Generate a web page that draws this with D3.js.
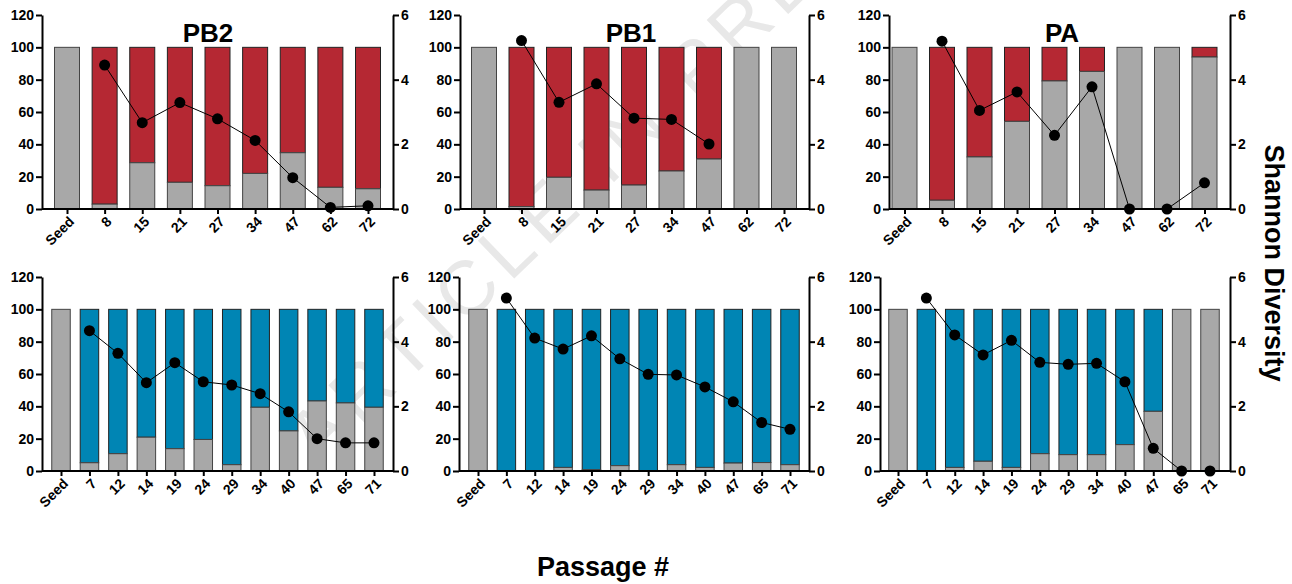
<!DOCTYPE html>
<html>
<head>
<meta charset="utf-8">
<script src="https://cdn.jsdelivr.net/npm/d3@7"></script>
<style>
  body { margin: 0; background: #fff; }
  svg { display: block; font-family: "Liberation Sans", Arial, sans-serif; }
</style>
</head>
<body>
<script>
'use strict';

const width = 1292, height = 584;

// categories
const topPassages = ['Seed', '8', '15', '21', '27', '34', '47', '62', '72'];
const bottomPassages = ['Seed', '7', '12', '14', '19', '24', '29', '34', '40', '47', '65', '71'];

// % of reads that are seed (gray); remainder is the variant colour
const pb2TopGray = [100, 3, 28.6, 16.5, 14.4, 22, 34.8, 13.4, 12.5];
const pb1TopGray = [100, 1.5, 19.6, 11.7, 14.8, 23.5, 30.9, 100, 100];
const paTopGray = [100, 5.4, 32.2, 54.2, 79.2, 85.1, 100, 100, 94];
const pb2BotGray = [100, 5.1, 10.7, 20.9, 13.8, 19.5, 3.9, 39.4, 24.8, 43.3, 42.1, 39.4];
const pb1BotGray = [100, 0, 0, 2.2, 0.8, 3.3, 0, 3.9, 2.2, 4.9, 5.2, 3.9];
const paBotGray = [100, 0, 2.2, 6.0, 2.2, 10.7, 10.1, 10.1, 16.3, 36.9, 100, 100];

// Shannon diversity (right axis); null = no point
const pb2TopShannon = [null, 4.45, 2.67, 3.29, 2.79, 2.12, 0.97, 0.05, 0.1];
const pb1TopShannon = [null, 5.21, 3.3, 3.87, 2.81, 2.77, 2.01, null, null];
const paTopShannon = [null, 5.19, 3.05, 3.62, 2.28, 3.78, 0, 0, 0.81];
const pb2BotShannon = [null, 4.34, 3.64, 2.73, 3.35, 2.76, 2.66, 2.39, 1.83, 1.0, 0.87, 0.87];
const pb1BotShannon = [null, 5.35, 4.11, 3.77, 4.18, 3.47, 2.99, 2.97, 2.6, 2.14, 1.5, 1.29];
const paBotShannon = [null, 5.35, 4.21, 3.59, 4.04, 3.36, 3.3, 3.33, 2.76, 0.7, 0, 0];

const leftTicks = [0, 20, 40, 60, 80, 100, 120];
const rightTicks = [0, 2, 4, 6];

const red = '#b52833', blue = '#0085b4', gray = '#a8a8a8';

const svg = d3.select('body').append('svg')
  .attr('width', width)
  .attr('height', height);

// watermark (runs off the top edge, as in the original)
svg.append('text')
  .attr('transform', 'translate(318,468) rotate(-44)')
  .attr('font-size', 76)
  .attr('letter-spacing', 8)
  .attr('fill', '#e8e8e8')
  .text('ARTICLE IN PRESS');

// panel geometry: axis x positions, first/last bar centre, plot top/bottom
const panels = [
  {title: 'PB2', cats: topPassages, grayV: pb2TopGray, sh: pb2TopShannon, color: red,
   xl: 42, xr: 393, c0: 67, c1: 368, y0: 209, y1: 15, barW: 25, titleX: 208},
  {title: 'PB1', cats: topPassages, grayV: pb1TopGray, sh: pb1TopShannon, color: red,
   xl: 460, xr: 809, c0: 484, c1: 784, y0: 209, y1: 15, barW: 25, titleX: 631},
  {title: 'PA', cats: topPassages, grayV: paTopGray, sh: paTopShannon, color: red,
   xl: 889, xr: 1230, c0: 904.5, c1: 1204.5, y0: 209, y1: 15, barW: 25, titleX: 1062},
  {title: null, cats: bottomPassages, grayV: pb2BotGray, sh: pb2BotShannon, color: blue,
   xl: 42, xr: 393, c0: 61, c1: 374, y0: 471, y1: 277, barW: 18.5},
  {title: null, cats: bottomPassages, grayV: pb1BotGray, sh: pb1BotShannon, color: blue,
   xl: 459, xr: 809, c0: 478, c1: 790, y0: 471, y1: 277, barW: 18.5},
  {title: null, cats: bottomPassages, grayV: paBotGray, sh: paBotShannon, color: blue,
   xl: 880, xr: 1230, c0: 898, c1: 1210, y0: 471, y1: 277, barW: 18.5}
];

panels.forEach(p => {
  const g = svg.append('g');
  const x = d3.scalePoint().domain(p.cats).range([p.c0, p.c1]);
  const y = d3.scaleLinear().domain([0, 120]).range([p.y0, p.y1]);
  const y2 = d3.scaleLinear().domain([0, 6]).range([p.y0, p.y1]);
  const rows = p.cats.map((c, i) => ({cat: c, gray: p.grayV[i], sh: p.sh[i]}));

  // variant part (gray top .. 100)
  g.selectAll('rect.var')
    .data(rows.filter(d => d.gray < 100))
    .join('rect')
    .attr('class', 'var')
    .attr('x', d => x(d.cat) - p.barW / 2)
    .attr('width', p.barW)
    .attr('y', y(100))
    .attr('height', d => y(d.gray) - y(100))
    .attr('fill', p.color)
    .attr('stroke', '#222')
    .attr('stroke-width', 1);

  // seed part (0 .. gray)
  g.selectAll('rect.gray')
    .data(rows.filter(d => d.gray > 0))
    .join('rect')
    .attr('class', 'gray')
    .attr('x', d => x(d.cat) - p.barW / 2)
    .attr('width', p.barW)
    .attr('y', d => y(d.gray))
    .attr('height', d => y(0) - y(d.gray))
    .attr('fill', gray)
    .attr('stroke', '#444')
    .attr('stroke-width', 1);

  // left axis
  const la = g.append('g').attr('transform', `translate(${p.xl},0)`)
    .call(d3.axisLeft(y).tickValues(leftTicks).tickSize(6).tickPadding(2).tickSizeOuter(0));
  // right axis
  const ra = g.append('g').attr('transform', `translate(${p.xr},0)`)
    .call(d3.axisRight(y2).tickValues(rightTicks).tickFormat(d3.format('d'))
      .tickSize(6).tickPadding(2).tickSizeOuter(0));
  // bottom axis line between the two y axes
  g.append('line')
    .attr('x1', p.xl).attr('x2', p.xr)
    .attr('y1', p.y0).attr('y2', p.y0)
    .attr('stroke', '#000').attr('stroke-width', 2);
  const ba = g.append('g').attr('transform', `translate(0,${p.y0})`)
    .call(d3.axisBottom(x).tickSize(5).tickSizeOuter(0));
  ba.select('.domain').remove();
  ba.selectAll('text')
    .attr('text-anchor', 'end')
    .attr('transform', 'translate(4,10) rotate(-45)')
    .attr('dy', '0.35em')
    .attr('dx', 0)
    .attr('y', 0);

  [la, ra, ba].forEach(a => {
    a.selectAll('.domain').attr('stroke', '#000').attr('stroke-width', 2);
    a.selectAll('.tick line').attr('stroke', '#000').attr('stroke-width', 2);
    a.selectAll('text').attr('font-size', 14).attr('font-weight', 'bold')
      .attr('fill', '#000').attr('font-family', '"Liberation Sans", Arial, sans-serif');
  });

  // Shannon line + points
  const pts = rows.filter(d => d.sh !== null);
  g.append('path')
    .datum(pts)
    .attr('fill', 'none')
    .attr('stroke', '#000')
    .attr('stroke-width', 1)
    .attr('d', d3.line().x(d => x(d.cat)).y(d => y2(d.sh)));
  g.selectAll('circle')
    .data(pts)
    .join('circle')
    .attr('cx', d => x(d.cat))
    .attr('cy', d => y2(d.sh))
    .attr('r', 5.5)
    .attr('fill', '#000');

  if (p.title) {
    g.append('text')
      .attr('x', p.titleX).attr('y', 42)
      .attr('text-anchor', 'middle')
      .attr('font-size', 26).attr('font-weight', 'bold')
      .text(p.title);
  }
});

svg.append('text')
  .attr('transform', 'translate(1265,263) rotate(90)')
  .attr('text-anchor', 'middle')
  .attr('font-size', 27).attr('font-weight', 'bold')
  .text('Shannon Diversity');

svg.append('text')
  .attr('x', 603).attr('y', 576)
  .attr('text-anchor', 'middle')
  .attr('font-size', 27).attr('font-weight', 'bold')
  .text('Passage #');
</script>
</body>
</html>
